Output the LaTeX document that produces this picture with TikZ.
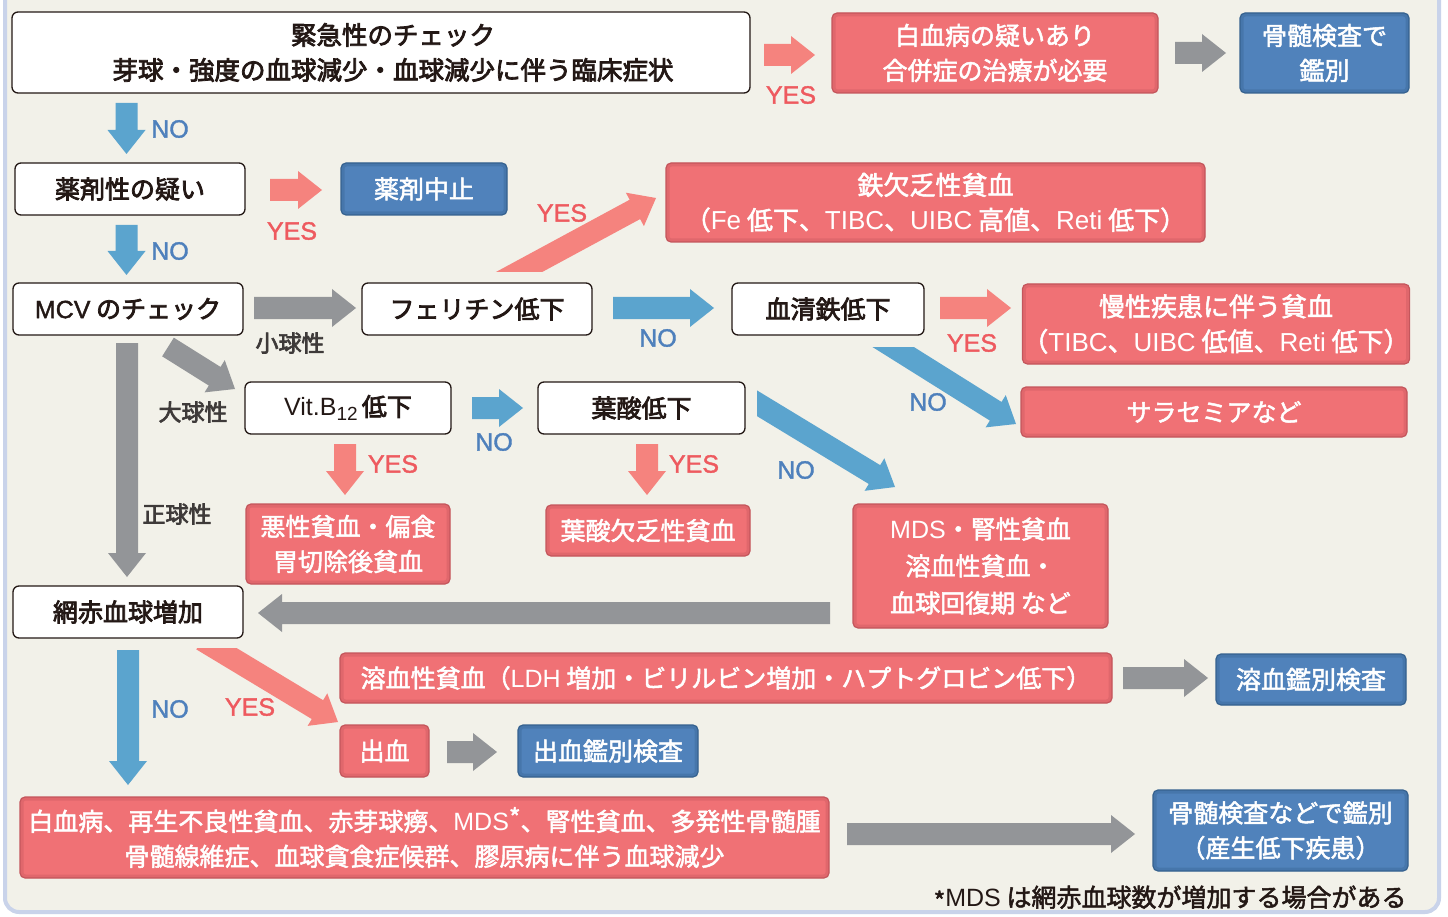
\documentclass[tikz,border=0pt]{standalone}
\usepackage{fontspec}
\setmainfont{Noto Sans CJK JP}
\newfontfamily\medfont{Noto Sans CJK JP}[FakeBold=3]
\newfontfamily\whfont{Noto Sans CJK JP}[FakeBold=2]
\newfontfamily\latm{Liberation Sans}[FakeBold=1.5]
\newfontfamily\latr{Liberation Sans}
\usetikzlibrary{calc}
\definecolor{bgc}{HTML}{F2F1E9}
\definecolor{bgb}{HTML}{C9D3EA}
\definecolor{rfill}{HTML}{F07175}
\definecolor{rdark}{HTML}{C4565C}
\definecolor{bfill}{HTML}{5082BB}
\definecolor{bdark}{HTML}{36628F}
\definecolor{parr}{HTML}{F5837E}
\definecolor{barr}{HTML}{5BA4CE}
\definecolor{garr}{HTML}{939598}
\definecolor{notxt}{HTML}{4E80BC}
\definecolor{yestxt}{HTML}{EE5A5F}
\definecolor{dtxt}{HTML}{231815}
\definecolor{ltxt}{HTML}{3E3A39}
\newcommand{\fatarrow}[3]{%
  \coordinate (fah) at ($(#3)!24pt!(#2)$);
  \fill[#1] ($(#2)!11pt!90:(#3)$) -- ($(fah)!11pt!90:(#3)$) -- ($(fah)!19pt!90:(#3)$) -- (#3)
    -- ($(fah)!19pt!-90:(#3)$) -- ($(fah)!11pt!-90:(#3)$) -- ($(#2)!11pt!-90:(#3)$) -- cycle;
}
\newcommand{\wl}[1]{{\latr #1}}
\tikzset{
  wbox/.style={draw=dtxt, line width=1.3pt, fill=white, rounded corners=6pt, inner sep=0pt,
    text=dtxt, font=\fontsize{25}{35}\selectfont\medfont, align=center},
  shadowin/.style={path picture={\draw[#1, line width=7pt, opacity=0.35, rounded corners=5pt]
    (path picture bounding box.south west) rectangle (path picture bounding box.north east);}},
  rbox/.style={fill=rfill, draw=rdark, line width=1.2pt, rounded corners=5pt, inner sep=0pt,
    text=white, font=\fontsize{25}{35}\selectfont\whfont, align=center, shadowin=rdark},
  bbox/.style={fill=bfill, draw=bdark, line width=1.2pt, rounded corners=5pt, inner sep=0pt,
    text=white, font=\fontsize{25}{35}\selectfont\whfont, align=center, shadowin=bdark},
  notext/.style={text=notxt, font=\fontsize{25}{25}\selectfont\latm},
  yestext/.style={text=yestxt, font=\fontsize{25}{25}\selectfont\latm},
  lbl/.style={text=ltxt, font=\fontsize{23}{23}\selectfont\medfont},
  wh/.style 2 args={minimum width=#1pt, minimum height=#2pt},
}
\begin{document}
\begin{tikzpicture}[x=1pt,y=-1pt]
\useasboundingbox (0,0) rectangle (1448,917);
\fill[white] (0,0) rectangle (1448,917);
\draw[bgb, line width=4pt, fill=bgc, rounded corners=14pt] (5,-30) rectangle (1439,912);

% ---------- nodes ----------
\node[wbox, wh={738}{81}] (urg) at (381,52.5) {};
\node[text=dtxt, font=\fontsize{25.5}{35}\selectfont\medfont, align=center] (urgt) at (393,52.5)
  {緊急性のチェック\\芽球・強度の血球減少・血球減少に伴う臨床症状};
\node[rbox, wh={326}{80}] (leuk) at (995,53) {白血病の疑いあり\\合併症の治療が必要};
\node[bbox, wh={169}{80}] (bm1) at (1324.5,53) {骨髄検査で\\鑑別};
\node[wbox, wh={230}{52}] (drug) at (130,189) {薬剤性の疑い};
\node[bbox, wh={166}{52}] (stop) at (424,189) {薬剤中止};
\node[rbox, wh={539}{79}, font=\fontsize{26}{35}\selectfont\whfont] (ida) at (935.5,202.5) {鉄欠乏性貧血\\（\wl{Fe} 低下、\wl{TIBC}、\wl{UIBC} 高値、\wl{Reti} 低下）};
\node[wbox, wh={230}{52}] (mcv) at (128,309) {{\latm MCV} のチェック};
\node[wbox, wh={230}{52}] (fer) at (477,309) {フェリチン低下};
\node[wbox, wh={192}{52}] (sfe) at (828,309) {血清鉄低下};
\node[rbox, wh={386}{80}, font=\fontsize{26}{35}\selectfont\whfont] (acd) at (1216,324) {慢性疾患に伴う貧血\\（\wl{TIBC}、\wl{UIBC} 低値、\wl{Reti} 低下）};
\node[rbox, wh={386}{50}] (thal) at (1214,412) {サラセミアなど};
\node[wbox, wh={206}{52}] (b12) at (348,408) {{\latr Vit.B\raisebox{-0.2em}{\fontsize{19}{19}\selectfont 12}}\,低下};
\node[wbox, wh={207}{52}] (fol) at (641.5,408) {葉酸低下};
\node[rbox, wh={204}{80}] (pa) at (348,544) {悪性貧血・偏食\\胃切除後貧血};
\node[rbox, wh={204}{51}] (fda) at (648,530.5) {葉酸欠乏性貧血};
\node[rbox, wh={255}{124}, font=\fontsize{25}{37}\selectfont\whfont] (mds) at (980.5,566) {\wl{MDS}・腎性貧血\\溶血性貧血・\\血球回復期 など};
\node[wbox, wh={230}{52}] (ret) at (128,612) {網赤血球増加};
\node[rbox, wh={772}{50}] (hem) at (726,678) {溶血性貧血（\wl{LDH} 増加・ビリルビン増加・ハプトグロビン低下）};
\node[bbox, wh={190}{51}] (hemx) at (1311,679.5) {溶血鑑別検査};
\node[rbox, wh={89}{52}] (bld) at (384.5,751) {出血};
\node[bbox, wh={180}{52}] (bldx) at (608,751) {出血鑑別検査};
\node[rbox, wh={809}{81}] (bmf) at (424.5,837.5)
  {白血病、再生不良性貧血、赤芽球癆、\wl{MDS}\raisebox{0.15em}{*}、腎性貧血、多発性骨髄腫\\骨髄線維症、血球貪食症候群、膠原病に伴う血球減少};
\node[bbox, wh={255}{81}] (bm2) at (1280.5,830.5) {骨髄検査などで鑑別\\（産生低下疾患）};
\node[anchor=east, text=dtxt, font=\fontsize{25}{25}\selectfont\whfont] (note) at (1410,898)
  {\raisebox{-0.15em}{*}{\latr MDS} は網赤血球数が増加する場合がある};

% ---------- arrow end points ----------
\coordinate (a1s) at (764,55);   \coordinate (a1e) at (815,55);
\coordinate (a2s) at (1175,53);  \coordinate (a2e) at (1226,53);
\coordinate (a3s) at (126.5,103); \coordinate (a3e) at (126.5,154);
\coordinate (a4s) at (270,190);  \coordinate (a4e) at (322,190);
\coordinate (a5s) at (126.5,225); \coordinate (a5e) at (126.5,275);
\coordinate (a6s) at (254,308);  \coordinate (a6e) at (356,308);
\coordinate (a7s) at (613,308);  \coordinate (a7e) at (714,308);
\coordinate (a8s) at (940,308);  \coordinate (a8e) at (1011,308);
\coordinate (a9s) at (127,343);  \coordinate (a9e) at (127,577);
\coordinate (a10s) at (472,408); \coordinate (a10e) at (523,408);
\coordinate (a11s) at (345,444); \coordinate (a11e) at (345,495);
\coordinate (a12s) at (647,444); \coordinate (a12e) at (647,495);
\coordinate (a13s) at (830,613); \coordinate (a13e) at (258,613);
\coordinate (a14s) at (128,650); \coordinate (a14e) at (128,785);
\coordinate (a15s) at (1123,678); \coordinate (a15e) at (1208,678);
\coordinate (a16s) at (447,752); \coordinate (a16e) at (497,752);
\coordinate (a17s) at (847,834); \coordinate (a17e) at (1135,834);
\coordinate (d1s) at (495,285);  \coordinate (d1e) at (656,198);
\coordinate (d2s) at (874,335);  \coordinate (d2e) at (1016,424);
\coordinate (d3s) at (745,396);  \coordinate (d3e) at (895,487);
\coordinate (d4s) at (168,347);  \coordinate (d4e) at (235,389);
\coordinate (d5s) at (202,640);  \coordinate (d5e) at (338,722);

% ---------- arrows ----------
\fatarrow{parr}{a1s}{a1e}
\fatarrow{garr}{a2s}{a2e}
\fatarrow{barr}{a3s}{a3e}
\fatarrow{parr}{a4s}{a4e}
\fatarrow{barr}{a5s}{a5e}
\fatarrow{garr}{a6s}{a6e}
\fatarrow{barr}{a7s}{a7e}
\fatarrow{parr}{a8s}{a8e}
\fatarrow{garr}{a9s}{a9e}
\fatarrow{barr}{a10s}{a10e}
\fatarrow{parr}{a11s}{a11e}
\fatarrow{parr}{a12s}{a12e}
\fatarrow{garr}{a13s}{a13e}
\fatarrow{barr}{a14s}{a14e}
\fatarrow{garr}{a15s}{a15e}
\fatarrow{garr}{a16s}{a16e}
\fatarrow{garr}{a17s}{a17e}
\begin{scope}\clip (400,150) rectangle (700,272); \fatarrow{parr}{d1s}{d1e} \end{scope}
\begin{scope}\clip (850,347) rectangle (1050,450); \fatarrow{barr}{d2s}{d2e} \end{scope}
\begin{scope}\clip (757,380) rectangle (920,500); \fatarrow{barr}{d3s}{d3e} \end{scope}
\fatarrow{garr}{d4s}{d4e}
\begin{scope}\clip (150,648) rectangle (360,740); \fatarrow{parr}{d5s}{d5e} \end{scope}

% ---------- labels ----------
\node[notext] (no1) at (170,129) {NO};
\node[notext] (no2) at (170,251) {NO};
\node[notext] (no3) at (658,338) {NO};
\node[notext] (no4) at (928,402) {NO};
\node[notext] (no5) at (494,442) {NO};
\node[notext] (no6) at (796,470) {NO};
\node[notext] (no7) at (170,709) {NO};
\node[yestext] (y1) at (791,95) {YES};
\node[yestext] (y2) at (292,231) {YES};
\node[yestext] (y3) at (562,213) {YES};
\node[yestext] (y4) at (972,343) {YES};
\node[yestext] (y5) at (393,464) {YES};
\node[yestext] (y6) at (694,464) {YES};
\node[yestext] (y7) at (250,707) {YES};
\node[lbl] (l1) at (290,343) {小球性};
\node[lbl] (l2) at (193,412) {大球性};
\node[lbl] (l3) at (177,514) {正球性};
\end{tikzpicture}
\end{document}
